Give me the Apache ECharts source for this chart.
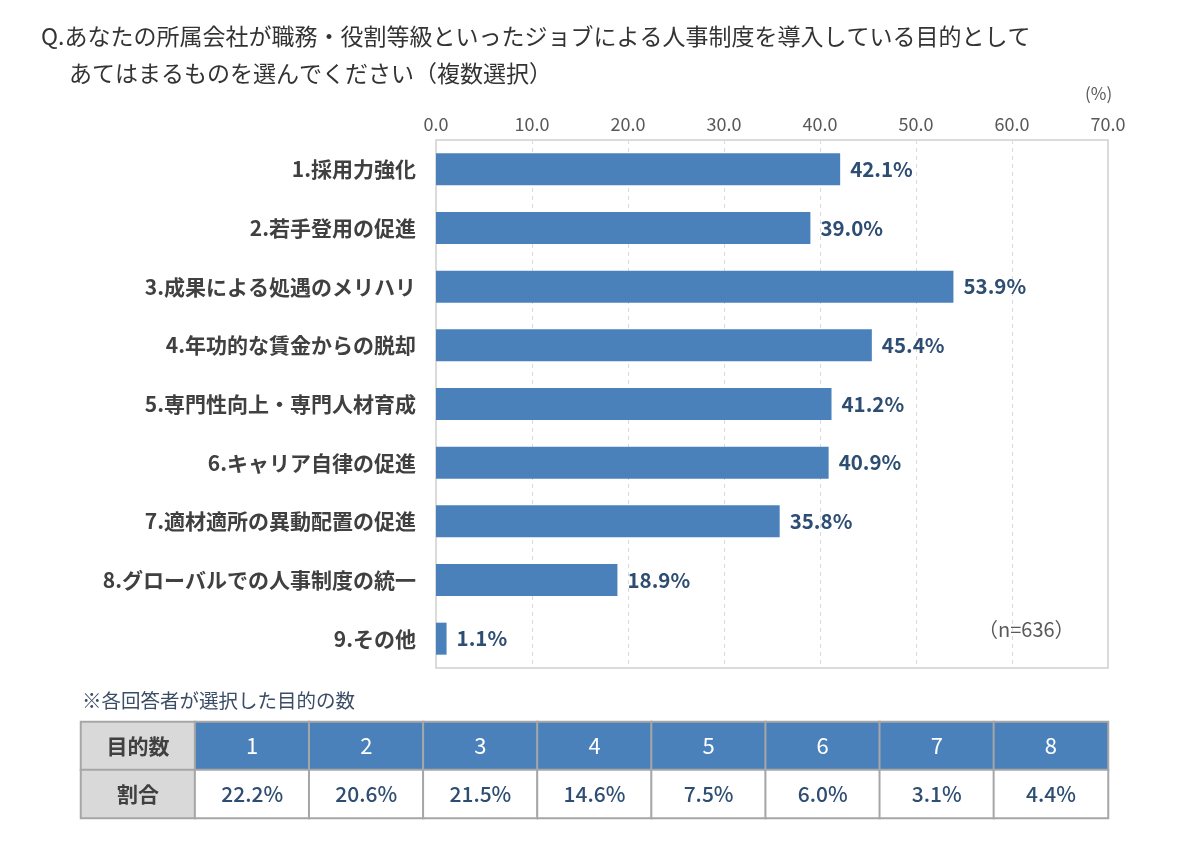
<!DOCTYPE html>
<html>
<head>
<meta charset="utf-8">
<script src="https://cdn.jsdelivr.net/npm/echarts@6/dist/echarts.min.js"></script>
<style>
  html, body { margin: 0; padding: 0; background: #fff; }
  #main { width: 1200px; height: 846px; }
</style>
</head>
<body>
<div id="main"></div>
<script>
// 目的（カテゴリ）
var categories = [
  '1.採用力強化',
  '2.若手登用の促進',
  '3.成果による処遇のメリハリ',
  '4.年功的な賃金からの脱却',
  '5.専門性向上・専門人材育成',
  '6.キャリア自律の促進',
  '7.適材適所の異動配置の促進',
  '8.グローバルでの人事制度の統一',
  '9.その他'
];
// 割合（%）
var values = [42.1, 39.0, 53.9, 45.4, 41.2, 40.9, 35.8, 18.9, 1.1];
// 目盛
var axisMin = 0, axisMax = 70, axisStep = 10;

// 表：選択した目的の数
var tableCounts = ['1', '2', '3', '4', '5', '6', '7', '8'];
var tableRates = [22.2, 20.6, 21.5, 14.6, 7.5, 6.0, 3.1, 4.4];
var tableRowNames = ['目的数', '割合'];

var FONT = '"Noto Sans CJK JP", "Noto Sans", sans-serif';
var BAR = '#4a81bb';
var DARKBLUE = '#2e4d72';

// 表のセル
var cells = [];
var xCats = ['head'].concat(tableCounts);
for (var r = 0; r < 2; r++) {
  cells.push({
    value: [0, r, 0],
    itemStyle: { color: '#d9d9d9' },
    label: { formatter: tableRowNames[r], color: '#404040', fontWeight: 'bold', fontSize: 21 }
  });
}
for (var i = 0; i < tableCounts.length; i++) {
  cells.push({
    value: [i + 1, 0, 0],
    itemStyle: { color: BAR },
    label: { formatter: tableCounts[i], color: '#fff', fontSize: 22 }
  });
  cells.push({
    value: [i + 1, 1, tableRates[i]],
    itemStyle: { color: '#fff' },
    label: { formatter: tableRates[i].toFixed(1) + '%', color: DARKBLUE, fontSize: 21, fontWeight: 500 }
  });
}

var chart = echarts.init(document.getElementById('main'));
var option = {
  backgroundColor: '#fff',
  textStyle: { fontFamily: FONT },
  title: [{
    text: 'Q.あなたの所属会社が職務・役割等級といったジョブによる人事制度を導入している目的として',
    left: 36, top: 20,
    textStyle: { fontSize: 23, fontWeight: 'normal', color: '#333', fontFamily: FONT }
  }, {
    text: 'あてはまるものを選んでください（複数選択）',
    left: 64, top: 57,
    textStyle: { fontSize: 23, fontWeight: 'normal', color: '#333', fontFamily: FONT }
  }],
  graphic: [{
    type: 'text', left: 1085, top: 85,
    style: { text: '(%)', fontSize: 17, fill: '#595959', fontFamily: FONT }
  }, {
    type: 'text', left: 978, top: 619,
    style: { text: '（n=636）', fontSize: 20, fill: '#595959', fontFamily: FONT }
  }, {
    type: 'text', left: 82, top: 691,
    style: { text: '※各回答者が選択した目的の数', fontSize: 19.5, fill: '#3b4d66', fontFamily: FONT }
  }],
  grid: [{
    left: 436, right: 92, top: 140, bottom: 178,
    show: true, borderColor: '#d0d0d0', borderWidth: 1.5, backgroundColor: '#fff'
  }, {
    left: 81, right: 92, top: 722, bottom: 28
  }],
  xAxis: [{
    gridIndex: 0,
    type: 'value', position: 'top',
    min: axisMin, max: axisMax, interval: axisStep,
    axisLine: { show: false }, axisTick: { show: false },
    axisLabel: {
      color: '#595959', fontSize: 18, margin: 7,
      formatter: function (v) { return v.toFixed(1); }
    },
    splitLine: { show: true, lineStyle: { color: '#d9d9d9', type: [4, 4], width: 1 } }
  }, {
    gridIndex: 1, type: 'category', data: xCats, show: false
  }],
  yAxis: [{
    gridIndex: 0,
    type: 'category', data: categories, inverse: true,
    axisLine: { show: false }, axisTick: { show: false },
    axisLabel: { color: '#404040', fontSize: 21, fontWeight: 'bold', margin: 20 }
  }, {
    gridIndex: 1, type: 'category', data: tableRowNames, inverse: true, show: false
  }],
  series: [{
    type: 'bar',
    xAxisIndex: 0, yAxisIndex: 0,
    data: values,
    barWidth: 32,
    itemStyle: { color: BAR },
    label: {
      show: true, position: 'right', distance: 10,
      color: DARKBLUE, fontSize: 20.5, fontWeight: 'bold',
      formatter: function (p) { return p.value.toFixed(1) + '%'; }
    },
    silent: true
  }, {
    type: 'heatmap',
    xAxisIndex: 1, yAxisIndex: 1,
    data: cells,
    itemStyle: { borderColor: '#a6a6a6', borderWidth: 2 },
    label: { show: true, fontFamily: FONT },
    emphasis: { disabled: true },
    silent: true
  }]
};
chart.setOption(option);
</script>
</body>
</html>
